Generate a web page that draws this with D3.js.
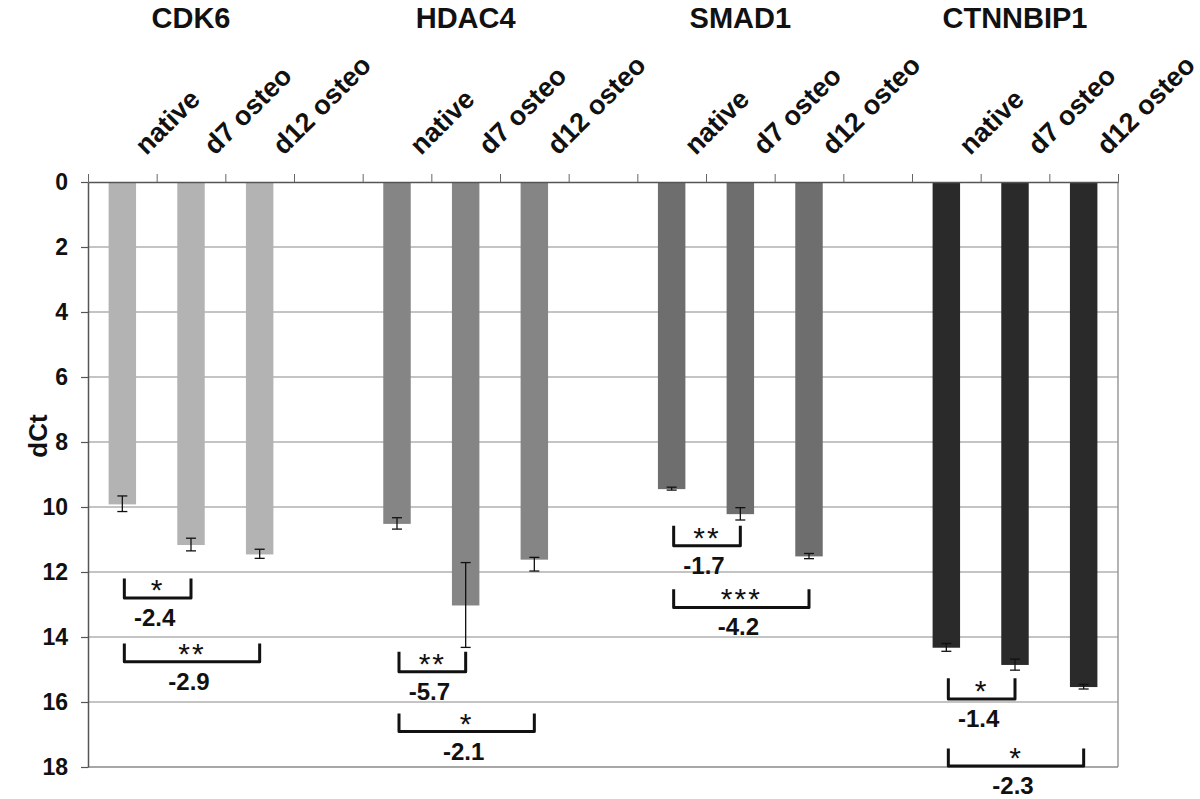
<!DOCTYPE html>
<html>
<head>
<meta charset="utf-8">
<script src="https://cdn.jsdelivr.net/npm/d3@7"></script>
<style>
  body { margin: 0; background: #fff; }
  svg text { font-family: Arial, "Liberation Sans", Helvetica, sans-serif; }
</style>
</head>
<body>
<svg id="chart" width="1200" height="799"></svg>
<script>
// ---------- data ----------
const genes = ["CDK6", "HDAC4", "SMAD1", "CTNNBIP1"];
const conditions = ["native", "d7 osteo", "d12 osteo"];
const geneColors = ["#b3b3b3", "#858585", "#6e6e6e", "#2a2a2a"];

// dCt means per gene (rows) and condition (columns)
const dctValues = [
  [9.92, 11.17, 11.46],
  [10.52, 13.03, 11.62],
  [9.45, 10.22, 11.52],
  [14.33, 14.86, 15.54]
];
// error bar extents (below / above the mean)
const errLow = [
  [0.26, 0.21, 0.16],
  [0.19, 1.32, 0.07],
  [0.06, 0.20, 0.09],
  [0.13, 0.18, 0.08]
];
const errHigh = [
  [0.22, 0.18, 0.12],
  [0.16, 1.29, 0.35],
  [0.03, 0.18, 0.07],
  [0.11, 0.16, 0.06]
];

// significance brackets: gene index, from condition, to condition, bracket top/bottom (dCt), stars, fold label
const bracketGene = [0, 0, 1, 1, 2, 2, 3, 3];
const bracketFrom = [0, 0, 0, 0, 0, 0, 0, 0];
const bracketTo   = [1, 2, 1, 2, 1, 2, 1, 2];
const bracketTop  = [12.2, 14.2, 14.45, 16.35, 10.58, 12.53, 15.27, 17.43];
const bracketBot  = [12.8, 14.76, 15.07, 16.91, 11.19, 13.09, 15.91, 17.97];
const bracketStars = ["*", "**", "**", "*", "**", "***", "*", "*"];
const bracketLabels = ["-2.4", "-2.9", "-5.7", "-2.1", "-1.7", "-4.2", "-1.4", "-2.3"];

const yTicks = [0, 2, 4, 6, 8, 10, 12, 14, 16, 18];
const yLabel = "dCt";

// ---------- layout ----------
const svg = d3.select("#chart");
const pLeft = 88, pRight = 1118, pTop = 182, pBottom = 767;

// slots: 3 bars per gene plus an empty slot between genes
const slots = [];
genes.forEach((g, gi) => {
  conditions.forEach(c => slots.push(g + "|" + c));
  if (gi < genes.length - 1) slots.push("gap" + gi);
});

const x = d3.scaleBand().domain(slots).range([pLeft, pRight]).paddingInner(0).paddingOuter(0);
const xLin = d3.scaleLinear().domain([0, slots.length]).range([pLeft, pRight]);
const y = d3.scaleLinear().domain([0, 18]).range([pTop, pBottom]);
const cx = (gi, ci) => x(genes[gi] + "|" + conditions[ci]) + x.bandwidth() / 2;

// gridlines
svg.append("g")
  .selectAll("line")
  .data(yTicks.filter(t => t > 0 && t < 18))
  .join("line")
  .attr("x1", pLeft).attr("x2", pRight)
  .attr("y1", d => y(d)).attr("y2", d => y(d))
  .attr("stroke", "#b0b0b0").attr("stroke-width", 1.5);

// right and bottom frame
svg.append("line").attr("x1", pRight).attr("x2", pRight).attr("y1", pTop).attr("y2", pBottom)
  .attr("stroke", "#9a9a9a").attr("stroke-width", 1.5);
svg.append("line").attr("x1", pLeft).attr("x2", pRight).attr("y1", pBottom).attr("y2", pBottom)
  .attr("stroke", "#8a8a8a").attr("stroke-width", 1.5);

// bars
const barData = [];
genes.forEach((g, gi) => conditions.forEach((c, ci) => barData.push({ gi, ci, v: dctValues[gi][ci], lo: errLow[gi][ci], hi: errHigh[gi][ci] })));
const bw = x.bandwidth() * 0.4;
svg.append("g")
  .selectAll("rect")
  .data(barData)
  .join("rect")
  .attr("x", d => cx(d.gi, d.ci) - bw / 2)
  .attr("width", bw)
  .attr("y", y(0))
  .attr("height", d => y(d.v) - y(0))
  .attr("fill", d => geneColors[d.gi]);

// error bars
const eb = svg.append("g").attr("stroke", "#111").attr("stroke-width", 1.3);
barData.forEach(d => {
  const xc = cx(d.gi, d.ci);
  const y1 = y(d.v - d.lo), y2 = y(d.v + d.hi);
  eb.append("line").attr("x1", xc).attr("x2", xc).attr("y1", y1).attr("y2", y2);
  eb.append("line").attr("x1", xc - 5).attr("x2", xc + 5).attr("y1", y1).attr("y2", y1);
  eb.append("line").attr("x1", xc - 5).attr("x2", xc + 5).attr("y1", y2).attr("y2", y2);
});

// left axis
const yAxis = svg.append("g")
  .attr("transform", `translate(${pLeft},0)`)
  .call(d3.axisLeft(y).tickValues(yTicks).tickSize(7).tickPadding(13).tickSizeOuter(0));
yAxis.select(".domain").attr("stroke", "#555").attr("stroke-width", 1.5);
yAxis.selectAll(".tick line").attr("stroke", "#555").attr("stroke-width", 1.2);
yAxis.selectAll(".tick text")
  .attr("font-size", 23).attr("font-weight", "bold").attr("fill", "#111")
  .attr("font-family", "Arial, 'Liberation Sans', sans-serif");

// top axis with slot tick marks
const xAxis = svg.append("g")
  .attr("transform", `translate(0,${pTop})`)
  .call(d3.axisTop(xLin).ticks(slots.length).tickSize(8).tickSizeOuter(0).tickFormat(""));
xAxis.select(".domain").attr("stroke", "#555").attr("stroke-width", 1.5);
xAxis.selectAll(".tick line").attr("stroke", "#666").attr("stroke-width", 1);

// y label
svg.append("text")
  .attr("transform", `translate(47,${436}) rotate(-90)`)
  .attr("text-anchor", "middle")
  .attr("font-size", 26).attr("font-weight", "bold").attr("fill", "#111")
  .text(yLabel);

// gene titles
svg.append("g").selectAll("text")
  .data(genes)
  .join("text")
  .attr("x", (g, gi) => cx(gi, 1))
  .attr("y", 28)
  .attr("text-anchor", "middle")
  .attr("font-size", 29).attr("font-weight", "bold").attr("fill", "#111")
  .text(d => d);

// condition labels (rotated)
svg.append("g").selectAll("text")
  .data(barData)
  .join("text")
  .attr("transform", d => `translate(${cx(d.gi, d.ci) + 24},156) rotate(-45)`)
  .attr("text-anchor", "start")
  .attr("font-size", 27).attr("font-weight", "bold").attr("fill", "#111")
  .text(d => conditions[d.ci]);

// significance brackets
const bg = svg.append("g");
bracketGene.forEach((gi, i) => {
  const x1 = cx(gi, bracketFrom[i]) + 2, x2 = cx(gi, bracketTo[i]);
  const yt = y(bracketTop[i]), yb = y(bracketBot[i]);
  bg.append("path")
    .attr("d", `M${x1},${yt} L${x1},${yb} L${x2},${yb} L${x2},${yt}`)
    .attr("fill", "none").attr("stroke", "#111").attr("stroke-width", 3)
    .attr("stroke-linejoin", "round");
  const xm = (x1 + x2) / 2;
  bg.append("text")
    .attr("x", xm).attr("y", yb + 2)
    .attr("text-anchor", "middle")
    .attr("font-size", 30).attr("letter-spacing", 2).attr("fill", "#111")
    .text(bracketStars[i]);
  bg.append("text")
    .attr("x", xm - 3).attr("y", yb + 28)
    .attr("text-anchor", "middle")
    .attr("font-size", 24).attr("font-weight", "bold").attr("fill", "#111")
    .text(bracketLabels[i]);
});
</script>
</body>
</html>
